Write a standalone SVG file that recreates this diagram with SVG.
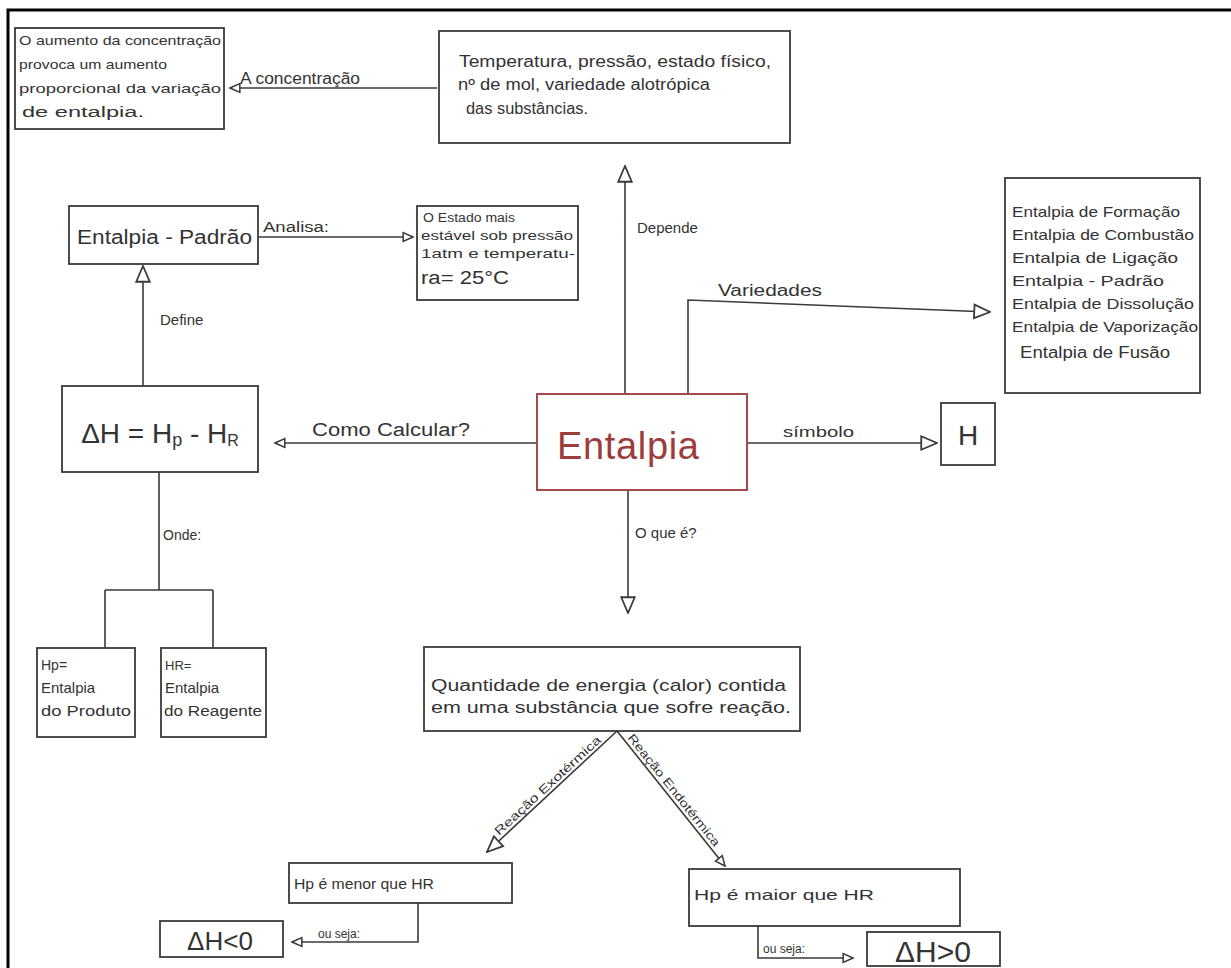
<svg xmlns="http://www.w3.org/2000/svg" width="1231" height="968" viewBox="0 0 1231 968">
<style>
.bx{fill:none;stroke:#3a3a3a;stroke-width:1.8}
.ln{fill:none;stroke:#3a3a3a;stroke-width:1.6}
.t{font-family:"Liberation Sans",Arial,sans-serif;fill:#333}
.s12{font-size:12px}.s13{font-size:13px}.s14{font-size:14px}.s15{font-size:15px}.s16{font-size:16px}.s18{font-size:18px}
</style>
<defs>
<marker id="aL" markerUnits="userSpaceOnUse" markerWidth="18" markerHeight="18" refX="15" refY="7" orient="auto" viewBox="0 0 16 14">
<path d="M1,1 L15,7 L1,13 z" fill="#fff" stroke="#3a3a3a" stroke-width="1.6"/>
</marker>
<marker id="aS" markerUnits="userSpaceOnUse" markerWidth="12" markerHeight="12" refX="10" refY="5" orient="auto" viewBox="0 0 11 10">
<path d="M1,1 L10,5 L1,9 z" fill="#fff" stroke="#3a3a3a" stroke-width="1.4"/>
</marker>
</defs>
<rect width="1231" height="968" fill="#fff"/>
<path d="M8,968 V10 H1231" fill="none" stroke="#000" stroke-width="3"/>

<g id="connectors">
<path class="ln" d="M437,88 H230" marker-end="url(#aS)"/>
<path class="ln" d="M625,394 V166" marker-end="url(#aL)"/>
<path class="ln" d="M258,237 H413" marker-end="url(#aS)"/>
<path class="ln" d="M143,386 V266" marker-end="url(#aL)"/>
<path class="ln" d="M537,443 H275" marker-end="url(#aS)"/>
<path class="ln" d="M159,472 V590 M105,590 H213 M105,590 V648 M213,590 V648"/>
<path class="ln" d="M688,394 V300 L990,312" marker-end="url(#aL)"/>
<path class="ln" d="M747,443 H937" marker-end="url(#aL)"/>
<path class="ln" d="M628,490 V613" marker-end="url(#aL)"/>
<path class="ln" d="M617,731 L487,852" marker-end="url(#aL)"/>
<path class="ln" d="M617,731 L725,866" marker-end="url(#aS)"/>
<path class="ln" d="M418,903 V942 H292" marker-end="url(#aS)"/>
<path class="ln" d="M758,926 V958 H853" marker-end="url(#aS)"/>
<text class="t s16" x="240" y="84" textLength="120" lengthAdjust="spacingAndGlyphs">A concentração</text>
<text class="t s15" x="637" y="233">Depende</text>
<text class="t s14" x="263" y="232" textLength="66" lengthAdjust="spacingAndGlyphs">Analisa:</text>
<text class="t s15" x="160" y="325">Define</text>
<text class="t s18" x="312" y="436" textLength="158" lengthAdjust="spacingAndGlyphs">Como Calcular?</text>
<text class="t s14" x="163" y="540">Onde:</text>
<text class="t s16" x="718" y="296" textLength="104" lengthAdjust="spacingAndGlyphs">Variedades</text>
<text class="t s15" x="783" y="437" textLength="71" lengthAdjust="spacingAndGlyphs">símbolo</text>
<text class="t s15" x="635" y="538">O que é?</text>
<text class="t s12" transform="translate(499,836) rotate(-42.7)" textLength="140" lengthAdjust="spacingAndGlyphs">Reação Exotérmica</text>
<text class="t s12" transform="translate(627,738) rotate(51.3)" textLength="140" lengthAdjust="spacingAndGlyphs">Reação Endotérmica</text>
<text class="t s12" x="318" y="938">ou seja:</text>
<text class="t s12" x="763" y="953">ou seja:</text>
</g>

<g id="n-aumento">
<rect class="bx" x="15" y="28" width="209" height="101"/>
<text class="t s13" x="19" y="45" textLength="202" lengthAdjust="spacingAndGlyphs">O aumento da concentração</text>
<text class="t s13" x="19" y="69" textLength="148" lengthAdjust="spacingAndGlyphs">provoca um aumento</text>
<text class="t s13" x="19" y="93" textLength="202" lengthAdjust="spacingAndGlyphs">proporcional da variação</text>
<text class="t s14" x="22" y="117" textLength="122" lengthAdjust="spacingAndGlyphs">de entalpia.</text>
</g>

<g id="n-depende">
<rect class="bx" x="439" y="31" width="351" height="112"/>
<text class="t s16" x="459" y="67" textLength="312" lengthAdjust="spacingAndGlyphs">Temperatura, pressão, estado físico,</text>
<text class="t s16" x="458" y="90" textLength="252" lengthAdjust="spacingAndGlyphs">nº de mol, variedade alotrópica</text>
<text class="t s16" x="466" y="114" textLength="122" lengthAdjust="spacingAndGlyphs">das substâncias.</text>
</g>

<g id="n-padrao">
<rect class="bx" x="69" y="206" width="189" height="58"/>
<text class="t" font-size="20" x="77" y="244" textLength="175" lengthAdjust="spacingAndGlyphs">Entalpia - Padrão</text>
</g>

<g id="n-estado">
<rect class="bx" x="417" y="206" width="161" height="94"/>
<text class="t s12" x="423" y="222" textLength="92" lengthAdjust="spacingAndGlyphs">O Estado mais</text>
<text class="t s12" x="421" y="240" textLength="152" lengthAdjust="spacingAndGlyphs">estável sob pressão</text>
<text class="t s12" x="421" y="258" textLength="154" lengthAdjust="spacingAndGlyphs">1atm e temperatu-</text>
<text class="t s18" x="421" y="284" textLength="88" lengthAdjust="spacingAndGlyphs">ra= 25°C</text>
</g>

<g id="n-formula">
<rect class="bx" x="62" y="386" width="196" height="86"/>
<text class="t" font-size="28" x="160" y="443" text-anchor="middle">ΔH = H<tspan font-size="18" dy="3">p</tspan><tspan dy="-3"> - H</tspan><tspan font-size="16" dy="3">R</tspan></text>
</g>

<g id="n-hp">
<rect class="bx" x="37" y="648" width="98" height="89"/>
<text class="t s14" x="41" y="670">Hp=</text>
<text class="t s15" x="41" y="693">Entalpia</text>
<text class="t s14" x="41" y="716" textLength="90" lengthAdjust="spacingAndGlyphs">do Produto</text>
</g>

<g id="n-hr">
<rect class="bx" x="161" y="648" width="105" height="89"/>
<text class="t s13" x="165" y="670">HR=</text>
<text class="t s15" x="165" y="693">Entalpia</text>
<text class="t s14" x="164" y="716" textLength="98" lengthAdjust="spacingAndGlyphs">do Reagente</text>
</g>

<g id="n-entalpia">
<rect x="537" y="394" width="210" height="96" fill="none" stroke="#a84848" stroke-width="2"/>
<text class="t" font-size="38" x="557" y="459" style="fill:#9c3c3c" textLength="142" lengthAdjust="spacing">Entalpia</text>
</g>

<g id="n-variedades">
<rect class="bx" x="1005" y="178" width="195" height="215"/>
<text class="t s15" x="1012" y="217" textLength="168" lengthAdjust="spacingAndGlyphs">Entalpia de Formação</text>
<text class="t s15" x="1012" y="240" textLength="182" lengthAdjust="spacingAndGlyphs">Entalpia de Combustão</text>
<text class="t s15" x="1012" y="263" textLength="166" lengthAdjust="spacingAndGlyphs">Entalpia de Ligação</text>
<text class="t s15" x="1012" y="286" textLength="152" lengthAdjust="spacingAndGlyphs">Entalpia - Padrão</text>
<text class="t s15" x="1012" y="309" textLength="182" lengthAdjust="spacingAndGlyphs">Entalpia de Dissolução</text>
<text class="t s15" x="1012" y="332" textLength="186" lengthAdjust="spacingAndGlyphs">Entalpia de Vaporização</text>
<text class="t s16" x="1020" y="358" textLength="150" lengthAdjust="spacingAndGlyphs">Entalpia de Fusão</text>
</g>

<g id="n-h">
<rect class="bx" x="941" y="403" width="54" height="62"/>
<text class="t" font-size="28" x="968" y="445" text-anchor="middle">H</text>
</g>

<g id="n-quantidade">
<rect class="bx" x="424" y="647" width="376" height="84"/>
<text class="t s16" x="431" y="691" textLength="355" lengthAdjust="spacingAndGlyphs">Quantidade de energia (calor) contida</text>
<text class="t s16" x="431" y="713" textLength="360" lengthAdjust="spacingAndGlyphs">em uma substância que sofre reação.</text>
</g>

<g id="n-menor">
<rect class="bx" x="289" y="863" width="223" height="40"/>
<text class="t s15" x="294" y="889" textLength="140" lengthAdjust="spacingAndGlyphs">Hp é menor que HR</text>
</g>

<g id="n-dh-neg">
<rect class="bx" x="160" y="921" width="123" height="36"/>
<text class="t" font-size="26" x="220" y="950" text-anchor="middle">ΔH&lt;0</text>
</g>

<g id="n-maior">
<rect class="bx" x="689" y="869" width="271" height="57"/>
<text class="t s15" x="694" y="900" textLength="180" lengthAdjust="spacingAndGlyphs">Hp é maior que HR</text>
</g>

<g id="n-dh-pos">
<rect class="bx" x="867" y="932" width="133" height="34"/>
<text class="t" font-size="30" x="933" y="962" text-anchor="middle">ΔH&gt;0</text>
</g>
</svg>
